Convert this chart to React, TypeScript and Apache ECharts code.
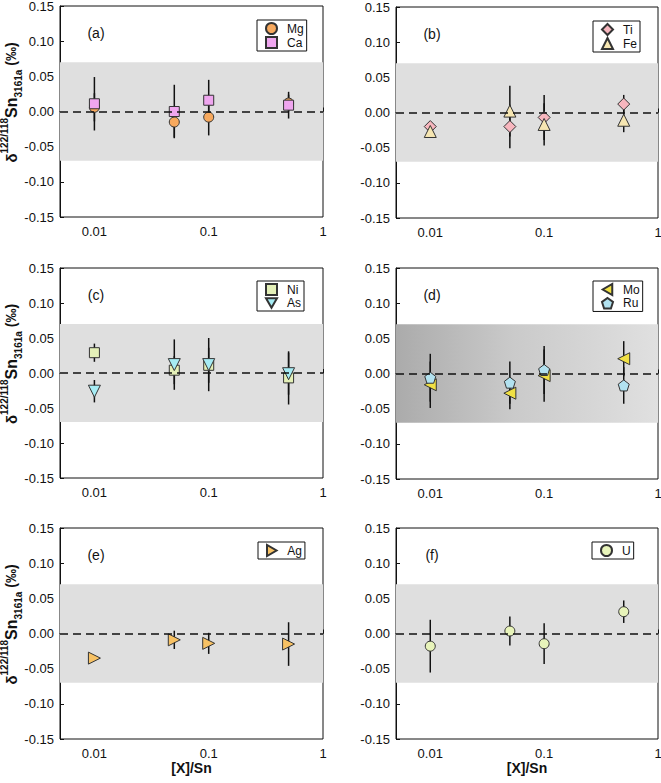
import React, { useEffect, useRef } from "react";
import * as echarts from "echarts";

// ---- data ----
const X_VALUES = [0.01, 0.05, 0.1, 0.5];
const Y_TICKS_MIN = -0.15;
const Y_TICKS_MAX = 0.15;
const Y_TICK_STEP = 0.05;
const BAND_LIMIT = 0.07;
const X_TICK_LABELS = ["0.01", "0.1", "1"];
const PANEL_LABELS = ["(a)", "(b)", "(c)", "(d)", "(e)", "(f)"];

const MG = [0.006, -0.015, -0.008, 0.012];
const MG_ERR = [0.02, 0.022, 0.026, 0.012];
const CA = [0.011, 0.0, 0.016, 0.009];
const CA_ERR = [0.038, 0.038, 0.029, 0.019];

const TI = [-0.02, -0.02, -0.007, 0.012];
const TI_ERR = [0.006, 0.031, 0.032, 0.013];
const FE = [-0.027, 0.002, -0.017, -0.011];
const FE_ERR = [0.005, 0.036, 0.03, 0.017];

const NI = [0.029, 0.004, 0.011, -0.007];
const NI_ERR = [0.013, 0.02, 0.025, 0.038];
const AS = [-0.026, 0.012, 0.012, -0.001];
const AS_ERR = [0.016, 0.036, 0.038, 0.03];

const MO = [-0.016, -0.028, -0.003, 0.021];
const MO_ERR = [0.033, 0.023, 0.037, 0.025];
const RU = [-0.006, -0.013, 0.005, -0.017];
const RU_ERR = [0.034, 0.03, 0.034, 0.026];

const AG = [-0.035, -0.009, -0.014, -0.015];
const AG_ERR = [0.003, 0.013, 0.015, 0.031];

const U = [-0.018, 0.0035, -0.0145, 0.031];
const U_ERR = [0.0375, 0.0205, 0.029, 0.016];

const PENTAGON = "path://M50,0 L97.55,34.55 L79.39,90.45 L20.61,90.45 L2.45,34.55 Z";
const TRI_DOWN = "path://M0,0 L20,0 L10,17.3 Z";
const TRI_LEFT = "path://M17.3,0 L17.3,20 L0,10 Z";
const TRI_RIGHT = "path://M0,0 L0,20 L17.3,10 Z";

type El = { name: string; y: number[]; err: number[]; symbol: string; rotate: number; icon?: string; color: string; size: number };

const PANELS: { left: number; top: number; width: number; height: number; legendLeft: number; legendTop: number; dark: boolean; els: El[] }[] = [
  {
    left: 60, top: 6, width: 263, height: 211, legendLeft: 257, legendTop: 20, dark: false,
    els: [
      { name: "Mg", y: MG, err: MG_ERR, symbol: "circle", rotate: 0, color: "#F7A95E", size: 10 },
      { name: "Ca", y: CA, err: CA_ERR, symbol: "rect", rotate: 0, color: "#EFA6EF", size: 10 },
    ],
  },
  {
    left: 396, top: 7, width: 262, height: 211, legendLeft: 593, legendTop: 21, dark: false,
    els: [
      { name: "Ti", y: TI, err: TI_ERR, symbol: "diamond", rotate: 0, color: "#F7B6BE", size: 12 },
      { name: "Fe", y: FE, err: FE_ERR, symbol: "triangle", rotate: 0, color: "#F6E6B2", size: 12 },
    ],
  },
  {
    left: 60, top: 268, width: 263, height: 210, legendLeft: 257, legendTop: 281, dark: false,
    els: [
      { name: "Ni", y: NI, err: NI_ERR, symbol: "rect", rotate: 0, color: "#E4F0B8", size: 10 },
      { name: "As", y: AS, err: AS_ERR, symbol: "triangle", rotate: 180, icon: TRI_DOWN, color: "#A6ECF4", size: 12 },
    ],
  },
  {
    left: 396, top: 268, width: 262, height: 211, legendLeft: 593, legendTop: 281, dark: true,
    els: [
      { name: "Mo", y: MO, err: MO_ERR, symbol: "triangle", rotate: 90, icon: TRI_LEFT, color: "#F0E044", size: 12 },
      { name: "Ru", y: RU, err: RU_ERR, symbol: PENTAGON, rotate: 0, color: "#B2E2F0", size: 11 },
    ],
  },
  {
    left: 60, top: 528, width: 263, height: 211, legendLeft: 258, legendTop: 542, dark: false,
    els: [{ name: "Ag", y: AG, err: AG_ERR, symbol: "triangle", rotate: -90, icon: TRI_RIGHT, color: "#F8C264", size: 12 }],
  },
  {
    left: 396, top: 528, width: 262, height: 211, legendLeft: 592, legendTop: 542, dark: false,
    els: [{ name: "U", y: U, err: U_ERR, symbol: "circle", rotate: 0, color: "#E8F4BA", size: 10 }],
  },
];

const FONT = "Liberation Sans, Arial, sans-serif";

function buildOption() {
  const grid: any[] = [];
  const xAxis: any[] = [];
  const yAxis: any[] = [];
  const series: any[] = [];
  const legend: any[] = [];
  const graphic: any[] = [];

  PANELS.forEach((p, i) => {
    grid.push({
      left: p.left, top: p.top, width: p.width, height: p.height,
      show: true, borderColor: "#111", borderWidth: 1, backgroundColor: "transparent",
      containLabel: false, outerBoundsMode: "none",
    });
    const bottomRow = i >= 4;
    xAxis.push({
      type: "log", logBase: 10, gridIndex: i, min: 0.005, max: 1,
      name: bottomRow ? "[X]/Sn" : "", nameLocation: "middle", nameGap: 20,
      nameTextStyle: { fontFamily: FONT, fontSize: 14, fontWeight: "bold", color: "#111" },
      axisLine: { show: true, lineStyle: { color: "#111", width: 1 } },
      axisTick: { show: true, inside: true, length: 4, lineStyle: { color: "#111" } },
      minorTick: { show: false },
      splitLine: { show: false },
      axisLabel: {
        fontFamily: FONT, fontSize: 13, color: "#111", margin: 8, showMinLabel: true, showMaxLabel: true,
        formatter: (v: number) => {
          const l = Math.log10(v);
          const r = Math.round(l);
          if (Math.abs(l - r) > 1e-6 || r < -2) return "";
          return X_TICK_LABELS[r + 2];
        },
      },
    });
    yAxis.push({
      type: "value", gridIndex: i, min: Y_TICKS_MIN, max: Y_TICKS_MAX, interval: Y_TICK_STEP,
      axisLine: { show: true, lineStyle: { color: "#111", width: 1 } },
      axisTick: { show: true, inside: true, length: 4, lineStyle: { color: "#111" } },
      splitLine: { show: false },
      axisLabel: {
        fontFamily: FONT, fontSize: 13, color: "#111", margin: 6,
        formatter: (v: number) => v.toFixed(2),
      },
    });

    const bandColor = p.dark
      ? { type: "linear", x: 0, y: 0, x2: 1, y2: 0, colorStops: [
          { offset: 0, color: "#ababab" }, { offset: 0.45, color: "#cacaca" }, { offset: 1, color: "#e0e0e0" } ] }
      : "#dfdfdf";
    series.push({
      type: "line", xAxisIndex: i, yAxisIndex: i, data: [], silent: true, z: 1,
      markArea: { silent: true, itemStyle: { color: bandColor }, data: [[{ yAxis: BAND_LIMIT }, { yAxis: -BAND_LIMIT }]] },
    });
    series.push({
      type: "line", xAxisIndex: i, yAxisIndex: i, data: [], silent: true, z: 2,
      markLine: {
        silent: true, symbol: ["none", "none"], label: { show: false },
        lineStyle: { type: [8, 5], color: "#111", width: 1.5 },
        data: [{ yAxis: 0 }],
      },
    });

    p.els.forEach((el) => {
      series.push({
        type: "custom", xAxisIndex: i, yAxisIndex: i, z: 3, silent: true,
        data: X_VALUES.map((x, k) => [x, el.y[k], el.err[k]]),
        encode: { x: 0, y: 1 },
        renderItem: (params: any, api: any) => {
          const x = api.value(0), y = api.value(1), e = api.value(2);
          const a = api.coord([x, y + e]);
          const b = api.coord([x, y - e]);
          return { type: "line", shape: { x1: a[0], y1: a[1], x2: b[0], y2: b[1] }, style: { stroke: "#111", lineWidth: 1.5 } };
        },
      });
    });
    p.els.forEach((el) => {
      series.push({
        type: "scatter", name: el.name, xAxisIndex: i, yAxisIndex: i, z: 4,
        symbol: el.symbol, symbolRotate: el.rotate, symbolSize: el.size,
        itemStyle: { color: el.color, borderColor: "#333", borderWidth: 1, opacity: 1 },
        data: X_VALUES.map((x, k) => [x, el.y[k]]),
      });
    });

    legend.push({
      data: p.els.map((e) => (e.icon ? { name: e.name, icon: e.icon } : { name: e.name })),
      orient: "vertical", left: p.legendLeft, top: p.legendTop,
      padding: [2, 3, 2, 8], itemGap: 1, itemWidth: 11, itemHeight: 11,
      borderColor: "#111", borderWidth: 1, backgroundColor: "#fff", selectedMode: false,
      textStyle: { fontFamily: FONT, fontSize: 12, color: "#111", padding: [0, 0, 0, 5] },
    });

    graphic.push({
      type: "text", x: p.left + 36, y: p.top + 27, z: 10,
      style: { text: PANEL_LABELS[i], font: `14px ${FONT}`, fill: "#111", align: "center", verticalAlign: "middle" },
    });

    if (i % 2 === 0) {
      graphic.push({
        type: "text", x: 11, y: p.top + p.height / 2 - 9, rotation: Math.PI / 2, z: 10,
        style: {
          text: "{d|δ}{sup|122/118}{sn|Sn}{sub|3161a}{p| (‰)}",
          align: "center", verticalAlign: "middle", fill: "#111",
          rich: {
            d: { fontFamily: FONT, fontSize: 15, fontWeight: "bold", lineHeight: 24, verticalAlign: "middle", fill: "#111" },
            sup: { fontFamily: FONT, fontSize: 10, fontWeight: "bold", lineHeight: 24, verticalAlign: "top", fill: "#111" },
            sn: { fontFamily: FONT, fontSize: 16, fontWeight: "bold", lineHeight: 24, verticalAlign: "middle", fill: "#111" },
            sub: { fontFamily: FONT, fontSize: 10, fontWeight: "bold", lineHeight: 24, verticalAlign: "bottom", fill: "#111" },
            p: { fontFamily: FONT, fontSize: 14, fontWeight: "bold", lineHeight: 24, verticalAlign: "middle", fill: "#111" },
          },
        },
      });
    }
  });

  return {
    animation: false,
    backgroundColor: "#fff",
    textStyle: { fontFamily: FONT },
    grid, xAxis, yAxis, series, legend, graphic,
  };
}

export default function App() {
  const ref = useRef<HTMLDivElement>(null);
  useEffect(() => {
    document.body.style.margin = "0";
    if (!ref.current) return;
    const chart = echarts.init(ref.current, undefined, { renderer: "svg" });
    chart.setOption(buildOption() as any);
    return () => chart.dispose();
  }, []);
  return <div ref={ref} style={{ width: 661, height: 783 }} />;
}
